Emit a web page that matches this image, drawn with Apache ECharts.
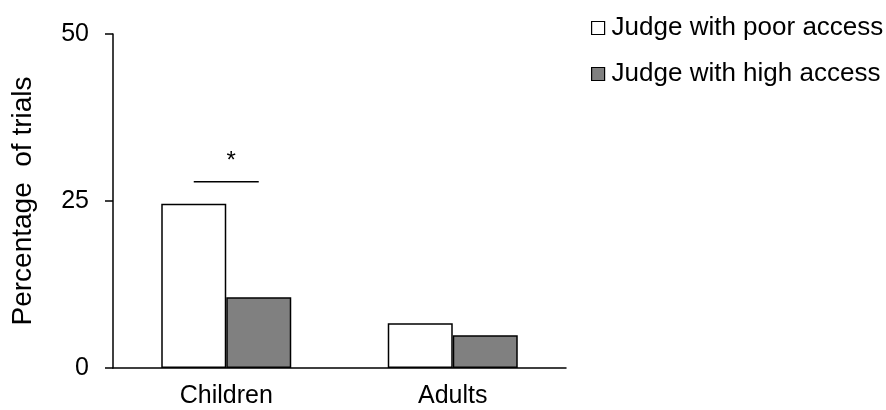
<!DOCTYPE html>
<html>
<head>
<meta charset="utf-8">
<script src="https://cdn.jsdelivr.net/npm/echarts@6/dist/echarts.min.js"></script>
<style>
  html, body { margin: 0; padding: 0; background: #fff; }
  #chart { width: 886px; height: 410px; }
</style>
</head>
<body>
<div id="chart"></div>
<script>
// Group labels and percentages of trials per judge condition
const groups = ['Children', 'Adults'];
const poorAccess = [24.6, 6.7];
const highAccess = [10.6, 4.9];
const seriesNames = ['Judge with poor access', 'Judge with high access'];
const yTicks = [0, 25, 50];

// Significance bracket over the Children pair
const sigGroup = 'Children';
const sigLevel = 27.9;
const sigStarLevel = 31.0;
const sigLabel = '*';

const FONT = '"Liberation Sans", Arial, sans-serif';
const BAR_W = 65;

const chart = echarts.init(document.getElementById('chart'), null, { renderer: 'canvas' });

const option = {
  animation: false,
  backgroundColor: '#ffffff',
  textStyle: { fontFamily: FONT, color: '#000' },
  grid: {
    left: 113, right: 320, top: 34, bottom: 42,
    containLabel: false,
    outerBoundsMode: 'none'
  },
  legend: {
    orient: 'vertical',
    left: 586,
    top: 10,
    itemWidth: 13,
    itemHeight: 13,
    itemGap: 20,
    icon: 'rect',
    data: seriesNames,
    textStyle: { fontFamily: FONT, fontSize: 26, color: '#000', padding: [0, 0, 0, 2] },
    itemStyle: { borderColor: '#000', borderWidth: 1.2 }
  },
  xAxis: {
    type: 'category',
    data: groups,
    axisLine: { lineStyle: { color: '#000', width: 1.5 } },
    axisTick: { show: false },
    axisLabel: { fontFamily: FONT, fontSize: 25, color: '#000', margin: 16 },
    splitLine: { show: false }
  },
  yAxis: {
    type: 'value',
    min: yTicks[0],
    max: yTicks[yTicks.length - 1],
    interval: yTicks[1] - yTicks[0],
    name: 'Percentage  of trials',
    nameLocation: 'middle',
    nameGap: 76,
    nameTextStyle: { fontFamily: FONT, fontSize: 28, color: '#000' },
    axisLine: { show: true, lineStyle: { color: '#000', width: 1.5 } },
    axisTick: { show: true, length: 8, inside: false, lineStyle: { color: '#000', width: 1.5 } },
    axisLabel: { fontFamily: FONT, fontSize: 25, color: '#000', margin: 24 },
    splitLine: { show: false }
  },
  series: [
    {
      name: seriesNames[0],
      type: 'bar',
      data: poorAccess,
      barWidth: BAR_W,
      barGap: '0%',
      itemStyle: { color: '#ffffff', borderColor: '#000', borderWidth: 1.5 }
    },
    {
      name: seriesNames[1],
      type: 'bar',
      data: highAccess,
      barWidth: BAR_W,
      barGap: '0%',
      itemStyle: { color: '#808080', borderColor: '#000', borderWidth: 1.5 }
    }
  ]
};

chart.setOption(option);

// Bracket spans from the centre of the first bar to the centre of the second
function drawSignificance() {
  const lineP = chart.convertToPixel({ gridIndex: 0 }, [sigGroup, sigLevel]);
  const starP = chart.convertToPixel({ gridIndex: 0 }, [sigGroup, sigStarLevel]);
  const x1 = lineP[0] - BAR_W / 2;
  const x2 = lineP[0] + BAR_W / 2;
  chart.setOption({
    graphic: [
      {
        type: 'line',
        shape: { x1: x1, y1: lineP[1], x2: x2, y2: lineP[1] },
        style: { stroke: '#000', lineWidth: 1.5 }
      },
      {
        type: 'text',
        x: starP[0] + 5,
        y: starP[1],
        style: {
          text: sigLabel,
          fontFamily: FONT,
          fontSize: 24,
          fill: '#000',
          align: 'center',
          verticalAlign: 'middle'
        }
      }
    ]
  });
}
drawSignificance();
</script>
</body>
</html>
